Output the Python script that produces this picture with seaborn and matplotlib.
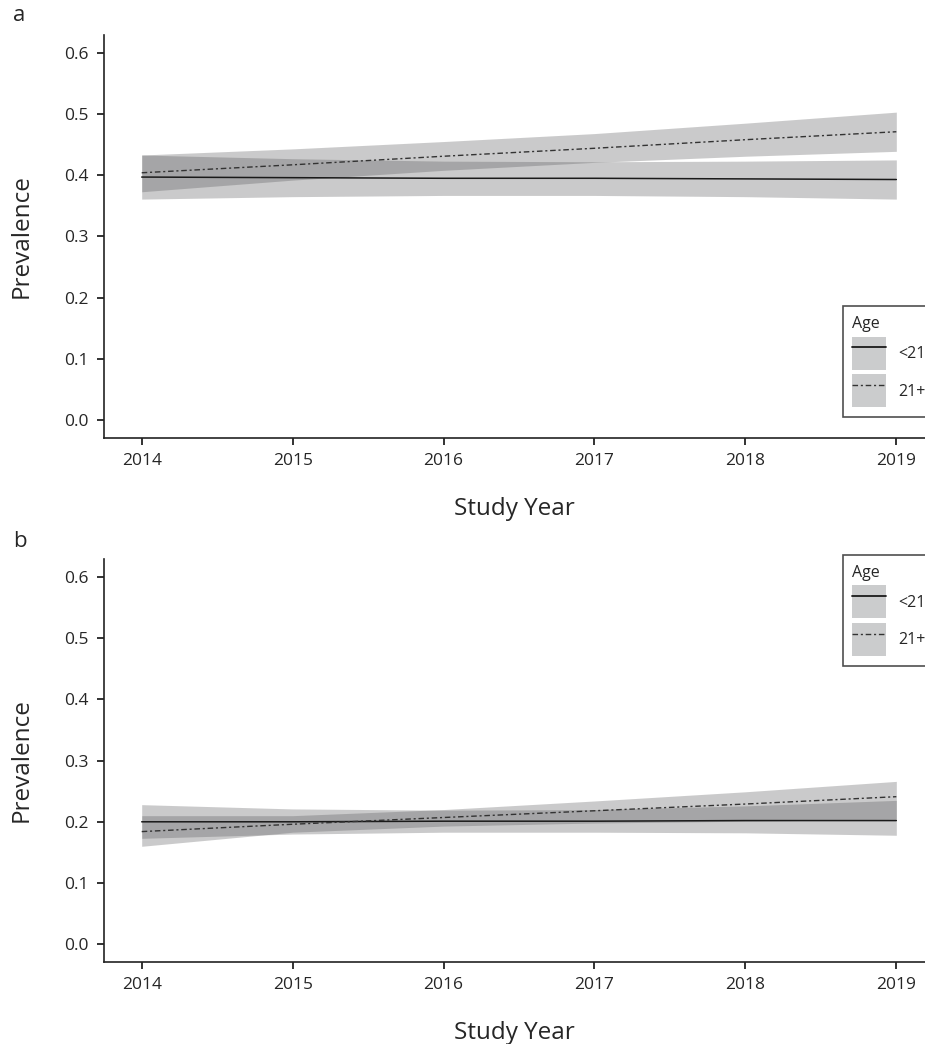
import matplotlib
matplotlib.use("Agg")
import matplotlib.pyplot as plt
from matplotlib.patches import Patch
from matplotlib.lines import Line2D
import seaborn as sns
import pandas as pd

years = [2014, 2015, 2016, 2017, 2018, 2019]
groups = ["<21", "21+"]

# panel a
a_u21_mean = [0.397, 0.396, 0.395, 0.395, 0.394, 0.393]
a_u21_low = [0.361, 0.365, 0.367, 0.367, 0.365, 0.361]
a_u21_high = [0.433, 0.427, 0.423, 0.422, 0.423, 0.425]
a_o21_mean = [0.404, 0.417, 0.431, 0.444, 0.458, 0.471]
a_o21_low = [0.373, 0.392, 0.408, 0.421, 0.431, 0.439]
a_o21_high = [0.433, 0.443, 0.455, 0.468, 0.485, 0.503]

# panel b
b_u21_mean = [0.200, 0.200, 0.201, 0.201, 0.202, 0.202]
b_u21_low = [0.173, 0.180, 0.183, 0.183, 0.182, 0.178]
b_u21_high = [0.228, 0.221, 0.219, 0.220, 0.226, 0.235]
b_o21_mean = [0.184, 0.196, 0.207, 0.218, 0.229, 0.241]
b_o21_low = [0.160, 0.183, 0.193, 0.198, 0.201, 0.204]
b_o21_high = [0.210, 0.210, 0.220, 0.234, 0.249, 0.266]

yticks = [0.0, 0.1, 0.2, 0.3, 0.4, 0.5, 0.6]

sns.set_style("white")
plt.rcParams['font.family'] = ['Open Sans', 'DejaVu Sans']

band_color = "#525254"
band_alpha = 0.3
line_styles = {"<21": "-", "21+": (0, (4, 2, 1.5, 2))}
line_colors = {"<21": "#1a1a1a", "21+": "#333333"}


def draw_panel(ax, means, lows, highs, legend_anchor):
    df = pd.DataFrame({
        "year": years * 2,
        "prev": means[0] + means[1],
        "Age": [groups[0]] * len(years) + [groups[1]] * len(years),
    })
    for i, g in enumerate(groups):
        ax.fill_between(years, lows[i], highs[i], color=band_color,
                        alpha=band_alpha, lw=0)
    for g in groups:
        sub = df[df["Age"] == g]
        sns.lineplot(data=sub, x="year", y="prev", ax=ax, color=line_colors[g],
                     linestyle=line_styles[g], lw=1.1 if g == "<21" else 1.0,
                     legend=False)
    ax.set_xlim(2013.75, 2019.19)
    ax.set_ylim(-0.029, 0.629)
    ax.set_xticks(years)
    ax.set_yticks(yticks)
    ax.set_yticklabels([f"{v:.1f}" for v in yticks])
    ax.set_xlabel("Study Year", fontsize=17.5, labelpad=20)
    ax.set_ylabel("Prevalence", fontsize=17.5, labelpad=22)
    ax.tick_params(axis="both", labelsize=12.5, length=5, width=1.3,
                   color="#222222", bottom=True, left=True, pad=6)
    for s in ["top", "right"]:
        ax.spines[s].set_visible(False)
    for s in ["left", "bottom"]:
        ax.spines[s].set_color("#222222")
        ax.spines[s].set_linewidth(1.2)

    handles = []
    for g in groups:
        p = Patch(facecolor="#cbcccd", edgecolor="none")
        l = Line2D([], [], color=line_colors[g], linestyle=line_styles[g],
                   lw=1.3 if g == "<21" else 1.0)
        handles.append((p, l))
    leg = ax.legend(handles, groups, title="Age", loc="upper left",
                    bbox_to_anchor=legend_anchor, borderaxespad=0,
                    frameon=True, fancybox=False,
                    edgecolor="#222222", fontsize=11.5, title_fontsize=11.5,
                    handlelength=2.1, handleheight=2.8, handletextpad=0.75,
                    labelspacing=0.3, borderpad=0.6, alignment="left")
    leg.get_frame().set_linewidth(1.2)


fig = plt.figure(figsize=(9.25, 10.44), dpi=100)
ax_a = fig.add_axes([0.1124, 0.5805, 0.8876, 0.386])
ax_b = fig.add_axes([0.1124, 0.0785, 0.8876, 0.386])

draw_panel(ax_a, (a_u21_mean, a_o21_mean), (a_u21_low, a_o21_low),
           (a_u21_high, a_o21_high), (0.9, 0.327))
draw_panel(ax_b, (b_u21_mean, b_o21_mean), (b_u21_low, b_o21_low),
           (b_u21_high, b_o21_high), (0.9, 1.01))

fig.text(0.014, 1 - 21 / 1044, "a", fontsize=16, va="baseline")
fig.text(0.014, 1 - 547 / 1044, "b", fontsize=16, va="baseline")

fig.savefig("out.png", dpi=100)
